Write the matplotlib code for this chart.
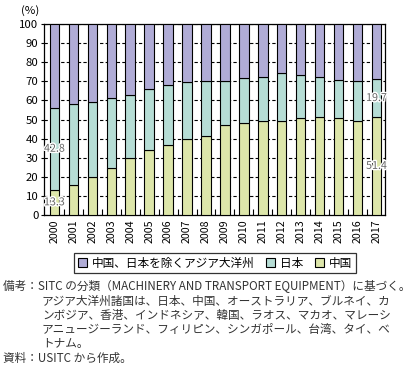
import numpy as np
import matplotlib.pyplot as plt
import matplotlib.patheffects as pe

plt.rcParams['font.family'] = ['Noto Sans CJK JP', 'DejaVu Sans']

# Data (shares, %)
years = ['2000', '2001', '2002', '2003', '2004', '2005', '2006', '2007', '2008',
         '2009', '2010', '2011', '2012', '2013', '2014', '2015', '2016', '2017']
china = np.array([13.3, 15.7, 19.8, 24.5, 29.7, 33.9, 36.7, 39.7, 41.4,
                  47.0, 48.1, 49.3, 49.3, 50.9, 51.4, 50.9, 49.3, 51.4])
japan = np.array([42.8, 42.3, 39.3, 36.7, 33.1, 32.0, 31.3, 29.9, 28.9,
                  23.3, 23.6, 23.1, 25.2, 22.4, 21.0, 19.9, 21.0, 19.7])
other = 100 - china - japan

series_names = ['中国、日本を除くアジア大洋州', '日本', '中国']
colors = ['#b0acd6', '#b6ddd5', '#dde6aa']

notes = [
    '備考：SITC の分類（MACHINERY AND TRANSPORT EQUIPMENT）に基づく。',
    'アジア大洋州諸国は、日本、中国、オーストラリア、ブルネイ、カ',
    'ンボジア、香港、インドネシア、韓国、ラオス、マカオ、マレーシ',
    'アニュージーランド、フィリピン、シンガポール、台湾、タイ、ベ',
    'トナム。',
    '資料：USITC から作成。',
]

W, H = 410, 372
fig = plt.figure(figsize=(W / 100, H / 100), dpi=100)
ax = fig.add_axes([44 / W, 1 - 215 / H, (385 - 44) / W, (215 - 24) / H])

x = np.arange(len(years))
bw = 0.5
kw = dict(width=bw, edgecolor='black', linewidth=0.8, zorder=3)
b_ch = ax.bar(x, china, color=colors[2], **kw)
b_jp = ax.bar(x, japan, bottom=china, color=colors[1], **kw)
b_ot = ax.bar(x, other, bottom=china + japan, color=colors[0], **kw)

ax.set_xlim(-0.55, len(years) - 0.55)
ax.set_ylim(0, 100)
ax.set_yticks(np.arange(0, 101, 10))
ax.yaxis.grid(True, color='black', linestyle=(0, (3, 2)), linewidth=0.8, zorder=0)
ax.set_axisbelow(True)

ax.set_xticks(x)
ax.set_xticklabels(years, rotation=90, fontsize=7.7)
ax.set_xticks(x[:-1] + 0.5, minor=True)
ax.tick_params(axis='x', which='major', length=0, pad=3)
ax.tick_params(axis='x', which='minor', direction='in', length=4, width=0.8)
ax.tick_params(axis='y', direction='out', length=2.5, width=0.8, labelsize=8.2, pad=1.5)
for s in ax.spines.values():
    s.set_linewidth(0.9)

fig.text(30 / W, 1 - 11 / H, '(%)', fontsize=8.2, ha='center', va='center')

# value labels
stroke = [pe.withStroke(linewidth=2, foreground='white')]
lab = dict(ha='center', va='center', fontsize=7.7, color='#666666', path_effects=stroke, zorder=5)
ax.text(0, china[0] / 2, f'{china[0]:.1f}', **lab)
ax.text(0, china[0] + japan[0] / 2, f'{japan[0]:.1f}', **lab)
ax.text(17, china[-1] / 2, f'{china[-1]:.1f}', **lab)
ax.text(17, china[-1] + japan[-1] / 2, f'{japan[-1]:.1f}', **lab)

leg = fig.legend([b_ot, b_jp, b_ch], series_names, loc='center', bbox_to_anchor=(215 / W, 1 - 263 / H),
                 ncol=3, frameon=True, fancybox=False, edgecolor='black', fontsize=8.4,
                 handlelength=0.8, handleheight=0.8, handletextpad=0.4, columnspacing=1.0,
                 borderpad=0.3)
leg.get_frame().set_linewidth(0.9)
for h in leg.legend_handles:
    h.set_edgecolor('black')
    h.set_linewidth(0.8)

ys = [287, 301, 315, 329, 343, 358]
xs = [3, 42, 42, 42, 42, 3]
for t, xx, yy in zip(notes, xs, ys):
    fig.text(xx / W, 1 - yy / H, t, fontsize=8.4, color='#333333', ha='left', va='center')

fig.savefig('out.png', dpi=100)
